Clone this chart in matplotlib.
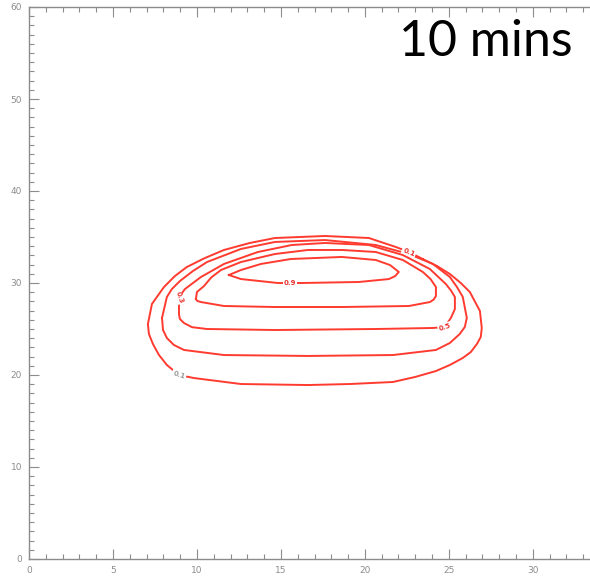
import numpy as np
import matplotlib
matplotlib.use('Agg')
import matplotlib.pyplot as plt

# contour levels (outer to inner)
levels = [0.1, 0.3, 0.5, 0.7, 0.9]

# contour outlines (data units)
c01_x = [23.45, 24.29, 25.06, 25.71, 26.25, 26.85, 26.96, 26.90, 26.67, 26.31, 25.83, 25.06,
         24.23, 22.98, 21.67, 19.11, 16.61, 12.62, 9.82, 8.93, 8.21, 7.74, 7.38, 7.14, 7.08,
         7.32, 8.04, 8.69, 9.40, 10.48, 11.61, 13.15, 14.64, 17.62, 20.24, 21.85, 22.62, 23.45]
c01_y = [32.60, 31.85, 30.98, 30.00, 29.02, 26.96, 25.11, 24.13, 23.37, 22.50, 21.85, 21.09,
         20.43, 19.78, 19.24, 19.02, 18.91, 19.02, 19.67, 20.00, 21.09, 22.17, 23.37, 24.46, 25.54,
         27.72, 29.57, 30.76, 31.74, 32.72, 33.59, 34.35, 34.89, 35.11, 34.89, 33.91, 33.37, 32.60]

c03_x = [7.92, 7.98, 8.21, 8.63, 9.23, 11.61, 16.61, 21.67, 24.23, 25.06, 25.65, 25.95, 26.07,
         25.83, 25.48, 25.06, 24.05, 22.62, 20.65, 17.62, 14.64, 12.62, 10.60, 9.76, 8.99, 8.51,
         8.21, 7.92]
c03_y = [26.20, 24.89, 24.02, 23.26, 22.72, 22.17, 22.07, 22.17, 22.72, 23.48, 24.46, 25.22, 26.20,
         28.48, 29.57, 30.65, 32.07, 33.15, 34.13, 34.67, 34.46, 33.70, 32.28, 31.30, 30.22, 29.35,
         28.48, 26.20]

c05_x = [8.93, 9.29, 10.24, 11.61, 13.63, 15.65, 17.62, 20.24, 22.26, 23.87, 24.82, 25.12, 25.36,
         25.36, 25.12, 24.76, 24.05, 20.65, 14.64, 10.60, 9.70, 9.23, 8.98, 8.93, 8.93]
c05_y = [28.48, 29.35, 30.65, 32.07, 33.37, 34.13, 34.35, 34.13, 33.04, 31.52, 29.89, 29.20, 28.48,
         27.17, 26.20, 25.22, 25.11, 25.00, 24.89, 25.00, 25.20, 25.65, 26.10, 26.63, 28.48]

c07_x = [9.94, 10.00, 10.42, 10.85, 11.43, 12.62, 14.64, 16.61, 18.63, 20.65, 22.26, 23.45, 23.90,
         24.23, 24.23, 24.10, 23.87, 22.62, 18.63, 14.64, 11.61, 10.24, 10.02, 9.94]
c07_y = [28.26, 29.02, 29.67, 30.60, 31.41, 32.28, 33.15, 33.59, 33.59, 33.37, 32.50, 31.20, 30.45,
         29.57, 28.59, 28.20, 27.93, 27.50, 27.39, 27.39, 27.50, 27.93, 28.05, 28.26]

c09_x = [11.90, 12.62, 13.81, 15.60, 18.63, 20.65, 21.50, 22.02, 21.80, 21.43, 19.64, 16.25, 14.82,
         12.62, 11.90]
c09_y = [30.87, 31.41, 32.07, 32.61, 32.83, 32.50, 31.95, 31.20, 30.75, 30.43, 30.11, 30.00, 30.00,
         30.43, 30.87]

outlines = [(c01_x, c01_y), (c03_x, c03_y), (c05_x, c05_y), (c07_x, c07_y), (c09_x, c09_y)]

# contour labels as they appear: text, x, y, angle, colour
lab_text = ['0.1', '0.1', '0.3', '0.5', '0.9']
lab_x = [22.62, 8.93, 8.93, 24.76, 15.54]
lab_y = [33.37, 20.00, 28.48, 25.22, 30.00]
lab_rot = [-22, -18, -72, 18, 0]
lab_col = ['#e8322e', '#9a9a9a', '#e8322e', '#e8322e', '#e8322e']

red = '#ff3b30'
grey = '#8c8c8c'

fig = plt.figure(figsize=(5.9, 5.77), dpi=100)
ax = fig.add_axes([29 / 590, 18 / 577, 571 / 590, 552 / 577])

for (xs, ys) in outlines:
    ax.plot(xs, ys, color=red, lw=1.4, solid_joinstyle='round')

for t, x, y, r, c in zip(lab_text, lab_x, lab_y, lab_rot, lab_col):
    ax.text(x, y, t, fontsize=5, fontweight='bold', color=c, rotation=r,
            ha='center', va='center',
            bbox=dict(boxstyle='square,pad=0.15', fc='white', ec='none'))

ax.set_xlim(0, 34)
ax.set_ylim(0, 60)
ax.set_xticks(np.arange(0, 35, 5))
ax.set_yticks(np.arange(0, 61, 10))
ax.set_xticks(np.arange(0, 35, 1), minor=True)
ax.set_yticks(np.arange(0, 61, 1), minor=True)
ax.tick_params(which='both', direction='in', top=True, right=False, colors=grey,
               labelsize=6.5, labelcolor=grey, width=0.8)
ax.tick_params(which='major', length=7, pad=5)
ax.tick_params(which='minor', length=3.5)
for s in ax.spines.values():
    s.set_color(grey)
    s.set_linewidth(1.0)

fig.text(486 / 590, 1 - 42 / 577, '10 mins', fontsize=36, family='Lato',
         ha='center', va='center', color='black')

fig.savefig('out.png', dpi=100)
